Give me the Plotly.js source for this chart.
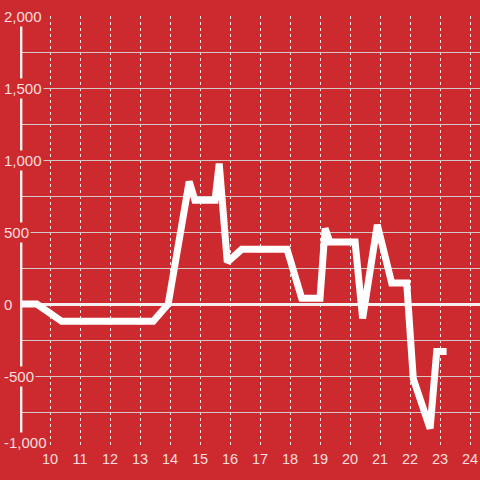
<!DOCTYPE html>
<html>
<head>
<meta charset="utf-8">
<script src="https://cdn.plot.ly/plotly-3.0.1.min.js"></script>
<style>html,body{margin:0;padding:0;background:#cc2a2e;}#chart{width:480px;height:480px;}</style>
</head>
<body>
<div id="chart"></div>
<script>
var hours = [9, 9.56, 10.39, 13.44, 13.94, 14.64, 14.83, 15.5, 15.64, 15.91, 16.39, 17.9, 18.39, 19.0, 19.17, 19.33, 20.17, 20.42, 20.91, 21.39, 21.89, 22.11, 22.67, 22.89, 23.22];
var values = [0, 0, -120, -120, 0, 850, 720, 720, 975, 290, 380, 380, 40, 40, 525, 430, 430, -100, 550, 145, 145, -520, -865, -330, -330];
var xTickVals = [10, 11, 12, 13, 14, 15, 16, 17, 18, 19, 20, 21, 22, 23, 24];
var xTickText = ["10", "11", "12", "13", "14", "15", "16", "17", "18", "19", "20", "21", "22", "23", "24"];
var yTickVals = [2000, 1500, 1000, 500, 0, -500, -1000];

var bg = "#cc2a2e";
var labelColor = "rgba(255,240,240,0.92)";
var yMin = Math.min.apply(null, yTickVals);

var annotations = yTickVals.map(function (v) {
  return {
    xref: "paper", yref: "y", x: 0, y: v, xanchor: "left", yanchor: "middle",
    xshift: -18, yshift: v === yMin ? 6 : 0, showarrow: false, text: v.toLocaleString("en-US"),
    bgcolor: bg, borderpad: 1,
    font: {family: "Liberation Sans, Arial, sans-serif", size: 15, color: labelColor}
  };
});

var data = [{
  x: hours, y: values, type: "scatter", mode: "lines",
  line: {color: "#ffffff", width: 7},
  hoverinfo: "skip"
}];

var layout = {
  width: 480, height: 480,
  paper_bgcolor: bg, plot_bgcolor: bg,
  margin: {l: 20, r: 0, t: 16, b: 32, pad: 0},
  showlegend: false,
  xaxis: {
    range: [9, 24.333], tickvals: xTickVals, ticktext: xTickText,
    showgrid: true, gridcolor: "rgba(255,255,255,0.9)", griddash: "dot", gridwidth: 1,
    zeroline: false, showline: false, ticks: "",
    tickfont: {family: "Liberation Sans, Arial, sans-serif", size: 14.5, color: labelColor}
  },
  yaxis: {
    range: [-1000, 2000], dtick: 250, tick0: 0,
    showgrid: true, gridcolor: "#d4c8c8", gridwidth: 1,
    zeroline: true, zerolinecolor: "#f4eeee", zerolinewidth: 3,
    showticklabels: false, showline: false, ticks: ""
  },
  shapes: [{
    type: "line", xref: "x", yref: "y", x0: 9.03, x1: 9.03, y0: -1000, y1: 2000,
    line: {color: "#f4eeee", width: 3}, layer: "above"
  }],
  annotations: annotations
};

Plotly.newPlot("chart", data, layout, {staticPlot: true, displayModeBar: false});
</script>
</body>
</html>
